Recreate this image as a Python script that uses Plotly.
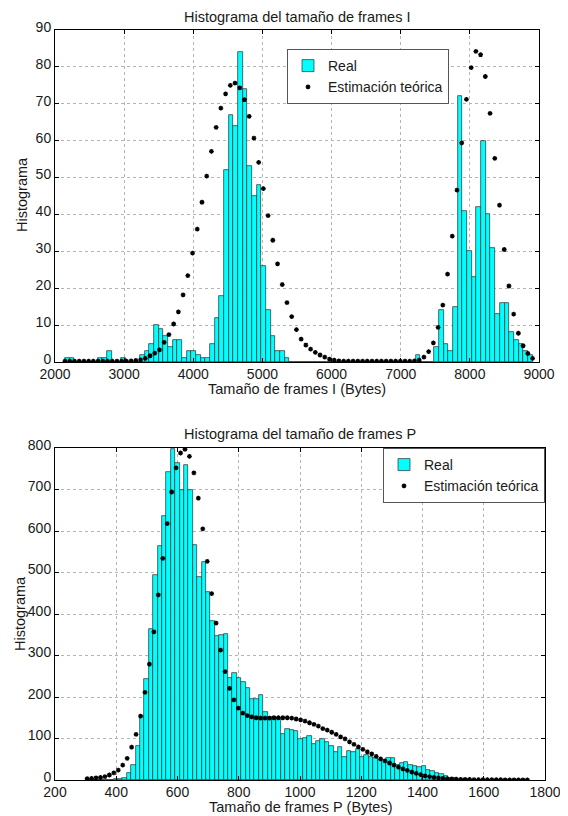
import plotly.graph_objects as go

W, H = 568, 816

# ---------------- data: I frames ----------------
i_bar_first_center = 2178.8   # centre of first histogram bin (Bytes)
i_bar_width = 67.62           # bin width (Bytes)
i_counts = [1, 1, 0, 0, 0, 0, 0, 1, 1, 3,
            0, 0, 1, 0, 0, 0, 2, 3, 5, 10,
            9, 7, 4, 6, 6, 1, 3, 3, 2, 1,
            1, 5, 12, 18, 52, 67, 64, 84, 74, 53,
            45, 48, 26, 14, 7, 3, 3, 1, 0, 0,
            0, 0, 0, 0, 0, 0, 0, 0, 0, 0,
            0, 0, 0, 0, 0, 0, 0, 0, 0, 0,
            0, 0, 0, 0, 0, 2, 0, 0, 0, 4,
            14, 5, 3, 15, 72, 41, 30, 23, 42, 60,
            40, 31, 13, 16, 16, 8, 6, 5, 3, 2]
i_theo_first_x = 2145.0
i_theo_step = 68.3
i_theory = [0.2, 0.2, 0.2, 0.2, 0.2, 0.2, 0.2, 0.2, 0.2, 0.2,
            0.2, 0.2, 0.2, 0.2, 0.3, 0.4, 0.6, 1.0, 1.7, 2.4,
            3.3, 5.3, 7.4, 10.3, 13.6, 18.2, 23.4, 29.5, 36.0, 43.3,
            50.4, 57.1, 63.6, 68.8, 72.7, 75.0, 75.6, 74.3, 71.1, 66.6,
            60.7, 54.1, 47.0, 39.7, 33.0, 26.6, 21.0, 16.1, 12.3, 8.8,
            6.2, 4.6, 3.5, 2.6, 1.9, 1.3, 0.8, 0.5, 0.3, 0.2,
            0.2, 0.2, 0.2, 0.2, 0.2, 0.2, 0.2, 0.2, 0.2, 0.2,
            0.2, 0.2, 0.2, 0.2, 0.3, 0.5, 1.3, 2.8, 5.2, 9.4,
            15.4, 23.8, 34.1, 46.6, 59.4, 71.2, 79.8, 84.2, 83.3, 77.4,
            67.4, 55.2, 42.5, 30.5, 20.6, 13.0, 7.8, 4.4, 2.3, 1.0]

# ---------------- data: P frames ----------------
p_bar_first_center = 312.2
p_bar_width = 14.37
p_counts = [0, 0, 0, 0, 0, 1, 2, 3, 6, 16,
            36, 82, 154, 244, 365, 494, 564, 636, 741, 797,
            763, 700, 759, 700, 566, 490, 526, 452, 383, 347,
            350, 352, 245, 257, 245, 235, 222, 194, 194, 205,
            165, 153, 153, 146, 112, 124, 120, 119, 100, 102,
            106, 87, 94, 98, 92, 82, 68, 80, 56, 70,
            68, 74, 55, 60, 55, 52, 48, 48, 52, 52,
            36, 40, 44, 36, 34, 32, 34, 24, 22, 16,
            14, 10, 6, 4, 3, 2, 2, 1, 1, 1,
            0, 1, 0, 0, 1, 0, 0, 0, 0, 1]
p_theo_first_x = 305.0
p_theo_step = 14.52
p_theory = [3, 4, 5, 6, 8, 12, 17, 24, 36, 52,
            79, 110, 154, 211, 279, 357, 446, 534, 618, 694,
            752, 788, 797, 780, 740, 679, 605, 527, 449, 378,
            313, 261, 221, 193, 173, 161, 155, 152, 150, 149,
            149, 149, 150, 150, 150, 150, 149, 147, 145, 142,
            138, 134, 130, 124, 120, 115, 110, 104, 99, 92,
            86, 80, 74, 68, 63, 57, 51, 46, 41, 36,
            31, 27, 23, 19, 16, 13, 10, 8, 6, 5,
            4, 3, 2.4, 2, 1.6, 1.4, 1.2, 1.1, 1.0, 0.9,
            0.8, 0.7, 0.6, 0.6, 0.5, 0.5, 0.4, 0.4, 0.3, 0.3]

i_xticks = [2000, 3000, 4000, 5000, 6000, 7000, 8000, 9000]
i_yticks = [0, 10, 20, 30, 40, 50, 60, 70, 80, 90]
p_xticks = [200, 400, 600, 800, 1000, 1200, 1400, 1600, 1800]
p_yticks = [0, 100, 200, 300, 400, 500, 600, 700, 800]

FONT = "Liberation Sans, Arial, sans-serif"
TXT = "#1a1a1a"
CYAN = "#00FFFF"
EDGE = "#2b2b2b"

# the page body adds an 8px margin around the figure
OFF = 8

fig = go.Figure()

theo_marker = dict(symbol="asterisk-open", size=4, color="black",
                   line=dict(color="black", width=1.3))

fig.add_trace(go.Bar(y=i_counts, x0=i_bar_first_center, dx=i_bar_width,
                     name="Real", marker=dict(color=CYAN, line=dict(color=EDGE, width=0.7)),
                     xaxis="x", yaxis="y", legend="legend"))
fig.add_trace(go.Scatter(y=i_theory, x0=i_theo_first_x, dx=i_theo_step, mode="markers",
                         name="Estimación teórica", marker=theo_marker,
                         xaxis="x", yaxis="y", legend="legend"))
fig.add_trace(go.Bar(y=p_counts, x0=p_bar_first_center, dx=p_bar_width,
                     name="Real", marker=dict(color=CYAN, line=dict(color=EDGE, width=0.7)),
                     xaxis="x2", yaxis="y2", legend="legend2"))
fig.add_trace(go.Scatter(y=p_theory, x0=p_theo_first_x, dx=p_theo_step, mode="markers",
                         name="Estimación teórica", marker=theo_marker,
                         xaxis="x2", yaxis="y2", legend="legend2"))

axis_common = dict(showline=True, linecolor="black", linewidth=1, mirror="ticks",
                   ticks="inside", ticklen=4, tickcolor="black", automargin=False,
                   showgrid=True, gridcolor="#b5b5b5", griddash="dot", gridwidth=1,
                   zeroline=False, tickfont=dict(family=FONT, size=14, color=TXT))
xaxis_extra = dict(ticklabelstandoff=-1)
yaxis_extra = dict(ticklabelshift=-3)

def px_x(p):
    return (p - OFF) / W

def px_y(p):
    return 1 - (p - OFF) / H

fig.update_layout(
    template="none",
    width=W, height=H, margin=dict(l=0, r=0, t=0, b=0, autoexpand=False),
    paper_bgcolor="white", plot_bgcolor="white",
    bargap=0, showlegend=True,
    font=dict(family=FONT, size=14, color=TXT),
    xaxis=dict(axis_common, **xaxis_extra, domain=[px_x(55), px_x(539)], range=[2000, 9000],
               tickvals=i_xticks, anchor="y"),
    yaxis=dict(axis_common, **yaxis_extra, domain=[px_y(362), px_y(30)], range=[0, 90],
               tickvals=i_yticks, anchor="x"),
    xaxis2=dict(axis_common, **xaxis_extra, domain=[px_x(55), px_x(545)], range=[200, 1800],
                tickvals=p_xticks, anchor="y2"),
    yaxis2=dict(axis_common, **yaxis_extra, domain=[px_y(780), px_y(448)], range=[0, 800],
                tickvals=p_yticks, anchor="x2"),
    legend=dict(x=px_x(287), y=px_y(49), xanchor="left", yanchor="top",
                bgcolor="white", bordercolor="#555", borderwidth=1,
                font=dict(family=FONT, size=14, color=TXT), tracegroupgap=0,
                itemwidth=30),
    legend2=dict(x=px_x(545), y=px_y(448), xanchor="right", yanchor="top",
                 bgcolor="white", bordercolor="#555", borderwidth=1,
                 font=dict(family=FONT, size=14, color=TXT), tracegroupgap=0,
                 itemwidth=30),
)

ann = [
    dict(text="Histograma del tamaño de frames I", x=px_x(297), y=px_y(17)),
    dict(text="Tamaño de frames I (Bytes)", x=px_x(297), y=px_y(389)),
    dict(text="Histograma", x=px_x(22), y=px_y(195), textangle=-90),
    dict(text="Histograma del tamaño de frames P", x=px_x(300), y=px_y(434)),
    dict(text="Tamaño de frames P (Bytes)", x=px_x(300), y=px_y(807)),
    dict(text="Histograma", x=px_x(20), y=px_y(614), textangle=-90),
]
for a in ann:
    fig.add_annotation(xref="paper", yref="paper", showarrow=False,
                       xanchor="center", yanchor="middle",
                       font=dict(family=FONT, size=14.5, color=TXT), **a)

fig.write_html("out.html")
